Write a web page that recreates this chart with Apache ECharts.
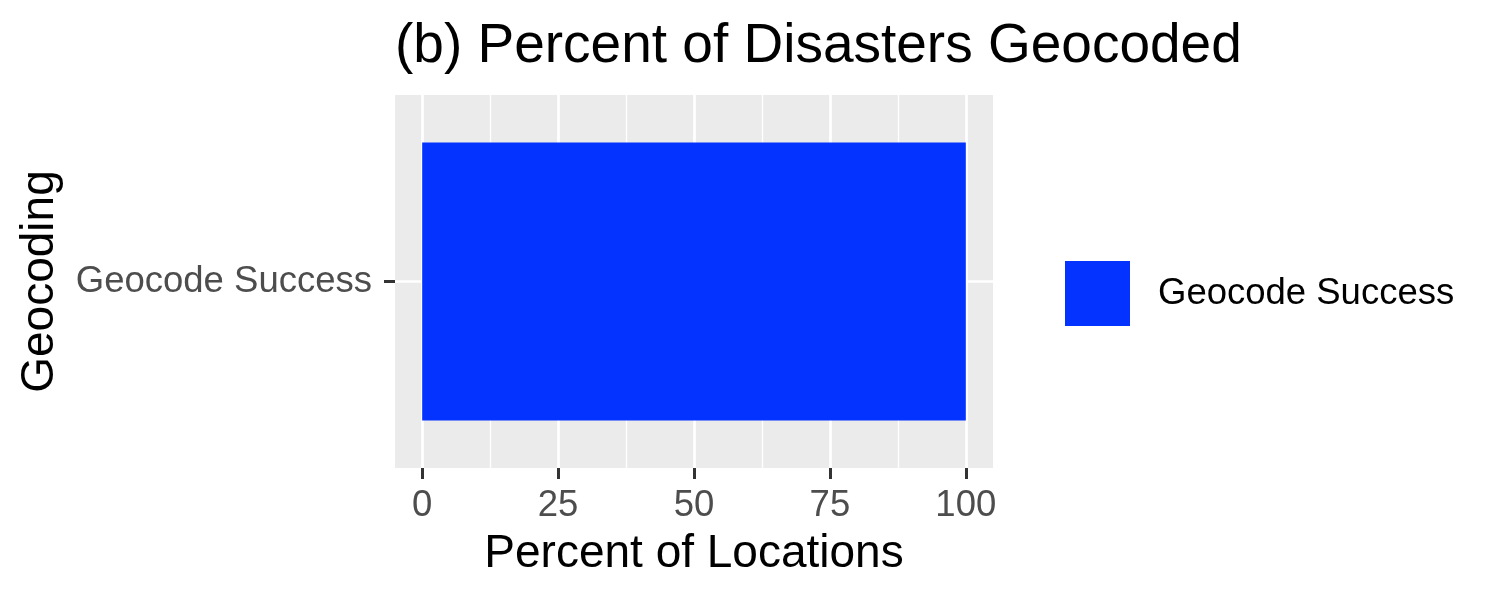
<!DOCTYPE html>
<html>
<head>
<meta charset="utf-8">
<script src="https://cdn.jsdelivr.net/npm/echarts@6/dist/echarts.min.js"></script>
<style>
html, body { margin: 0; padding: 0; background: #fff; }
#chart { width: 1500px; height: 600px; }
</style>
</head>
<body>
<div id="chart"></div>
<script>
var categories = ['Geocode Success'];
var percentValues = [100];
var majorTicks = [0, 25, 50, 75, 100];
var minorTicks = [12.5, 37.5, 62.5, 87.5];

(function(){
    var myChart = echarts.init(document.getElementById('chart'));
    var font = 'Liberation Sans, Arial, sans-serif';

    // gridlines drawn under the bar, ggplot style
    var gridLines = [];
    majorTicks.forEach(function(v){
        gridLines.push({xAxis: v, lineStyle: {color: '#fff', width: 2.7, type: 'solid'}});
    });
    minorTicks.forEach(function(v){
        gridLines.push({xAxis: v, lineStyle: {color: '#fff', width: 1.3, type: 'solid'}});
    });
    categories.forEach(function(c){
        gridLines.push({yAxis: c, lineStyle: {color: '#fff', width: 2.7, type: 'solid'}});
    });

    var option = {
        animation: false,
        textStyle: {fontFamily: font},
        title: {
            text: '(b) Percent of Disasters Geocoded',
            left: 390,
            top: 14,
            textStyle: {fontSize: 55, fontWeight: 'normal', color: '#000', fontFamily: font}
        },
        legend: {
            data: categories,
            left: 1060,
            top: 256,
            icon: 'rect',
            itemWidth: 65,
            itemHeight: 65,
            textStyle: {fontSize: 36.5, color: '#000', fontFamily: font, padding: [18, 0, 0, 23]}
        },
        grid: {
            left: 395,
            right: 507,
            top: 95,
            bottom: 132,
            outerBoundsMode: 'none',
            containLabel: false,
            show: true,
            backgroundColor: '#EBEBEB',
            borderWidth: 0
        },
        xAxis: {
            type: 'value',
            min: -5,
            max: 105,
            name: 'Percent of Locations',
            nameLocation: 'middle',
            nameGap: 63,
            nameTextStyle: {fontSize: 46, color: '#000', fontFamily: font},
            axisLine: {show: false},
            axisTick: {show: true, customValues: majorTicks, length: 11, lineStyle: {color: '#333', width: 3}},
            axisLabel: {customValues: majorTicks, fontSize: 36.5, color: '#4D4D4D', margin: 19, fontFamily: font},
            splitLine: {show: false}
        },
        yAxis: {
            type: 'category',
            data: categories,
            name: 'Geocoding',
            nameLocation: 'middle',
            nameRotate: 90,
            nameGap: 332,
            nameTextStyle: {fontSize: 46, color: '#000', fontFamily: font},
            axisLine: {show: false, onZero: false},
            axisTick: {show: true, alignWithLabel: true, length: 11, lineStyle: {color: '#333', width: 3}},
            axisLabel: {interval: 0, fontSize: 36.5, color: '#4D4D4D', margin: 23, fontFamily: font},
            splitLine: {show: false}
        },
        series: [{
            name: 'Geocode Success',
            type: 'bar',
            data: percentValues,
            barWidth: 278,
            itemStyle: {color: '#0433FF'},
            markLine: {
                z: 1,
                silent: true,
                symbol: 'none',
                label: {show: false},
                data: gridLines
            }
        }]
    };
    myChart.setOption(option);
})();
</script>
</body>
</html>
